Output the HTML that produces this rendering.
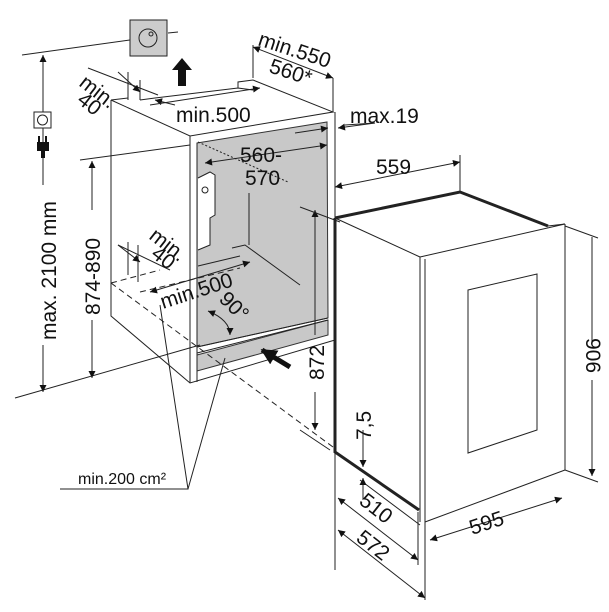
<!DOCTYPE html>
<html><head><style>body{margin:0;background:#fff}svg{display:block}text{font-family:"Liberation Sans",sans-serif;fill:#111}</style></head>
<body>
<svg width="609" height="612" viewBox="0 0 609 612" xmlns="http://www.w3.org/2000/svg">
<defs>
<marker id="a" viewBox="0 0 10 10" refX="10" refY="5" markerWidth="9" markerHeight="7" orient="auto-start-reverse" markerUnits="userSpaceOnUse"><path d="M0,0L10,5L0,10z" fill="#111"/></marker>
<marker id="b" viewBox="0 0 10 10" refX="9" refY="5" markerWidth="16" markerHeight="16" orient="auto" markerUnits="userSpaceOnUse"><path d="M0,0L10,5L0,10z" fill="#111"/></marker>
</defs>
<g stroke="#222" stroke-width="1" fill="none">
<polygon points="197,143 327,122 328,318 197,347" fill="#c8c8c8" stroke="#333"/>
<polygon points="197,355 328,320 328,335 197,371" fill="#c8c8c8" stroke="#333"/>
<path d="M111,100 L190,136 L333,112 L253,80 L238,82 L238,88 L253,90 M111,100 L128,98 M140,100 L155,98 L238,88"/>
<path d="M111,100 V316 L190,383 L335,340 V112"/>
<path d="M190,136 V383 M197,143 V382"/>
<path d="M197,347 L328,318 M197,353 L328,320"/>
<path d="M198,178 L210,172 L215,175 V215 L210,218 V245 L198,250" fill="#fff"/>
<circle cx="205" cy="190" r="3"/>
<path d="M198,266 L240,256 M232,248 L245,245 L300,285 M249,193 V245"/>
<path d="M198,142 L288,182" stroke-dasharray="2,2"/>
<path d="M111,283 L333,447 M111,283 L160,270 M140,292 L240,268" stroke-dasharray="6,4"/>
<path d="M335,218 L460,192 L548,226 M335,218 V452 L419,510" stroke-width="3"/>
<path d="M335,218 L420,257 M420,257 L565,224 L548,226 M420,257 V522 M425,259 V522 M425,522 L565,470 V224"/>
<polygon points="468,290 537,274 537,430 468,453"/>
<path d="M335,187 L460,162" marker-start="url(#a)" marker-end="url(#a)"/>
<path d="M460,155 V192 M335,180 V218"/>
<path d="M565,226 L598,238 M565,470 L598,482 M592,237 V330 M592,392 V476"/>
<path d="M592,345 V237 M592,380 V476" marker-end="url(#a)"/>
<path d="M335,452 V570 M425,522 V600 M418,512 V565 M360,480 L420,525"/>
<path d="M338,498 L418,560" marker-start="url(#a)" marker-end="url(#a)"/>
<path d="M338,530 L425,598" marker-start="url(#a)" marker-end="url(#a)"/>
<path d="M430,540 L562,498" marker-start="url(#a)" marker-end="url(#a)"/>
<path d="M363,430 V467" marker-end="url(#a)"/><path d="M363,500 V478" marker-end="url(#a)"/>
<path d="M315,335 V210" marker-end="url(#a)"/><path d="M315,392 V430" marker-end="url(#a)"/>
<path d="M300,207 L340,222 M300,430 L330,450"/>
<path d="M22,55 L130,40 M168,33 L178,32 M15,398 L200,345 M80,160 L190,145"/>
<path d="M43,185 V55" marker-end="url(#a)"/><path d="M43,345 V392" marker-end="url(#a)"/>
<path d="M92,210 V161" marker-end="url(#a)"/><path d="M92,320 V378" marker-end="url(#a)"/>
<path d="M253,78 V45 M333,112 V78"/>
<path d="M253,47 L333,78" marker-start="url(#a)" marker-end="url(#a)"/>
<path d="M128,72 V100 M140,80 V100 M88,68 L158,95"/>
<path d="M118,72 L140,92" marker-end="url(#a)"/><path d="M175,105 L155,100" marker-end="url(#a)"/>
<path d="M150,105 L260,88" marker-end="url(#a)"/>
<path d="M345,125 L375,123"/><path d="M295,133 L328,128" marker-end="url(#a)"/><path d="M375,123 L338,128" marker-end="url(#a)"/>
<path d="M205,163 L327,145" marker-start="url(#a)" marker-end="url(#a)"/>
<path d="M128,242 V275 M138,245 V282 M118,245 L170,270"/>
<path d="M118,245 L140,262" marker-end="url(#a)"/>
<path d="M150,292 L250,262" marker-start="url(#a)" marker-end="url(#a)"/>
<path d="M208,311 Q230,320 230,335" marker-start="url(#a)" marker-end="url(#a)"/>
<path d="M60,489 H188 L160,305 M188,489 L225,358"/>
<path d="M290,367 L262,350" stroke="#111" stroke-width="5" marker-end="url(#b)"/>
</g>
<rect x="130" y="20" width="37" height="36" fill="#ccc" stroke="#222"/>
<circle cx="148" cy="38" r="9" fill="none" stroke="#222"/><circle cx="151" cy="34" r="2" fill="none" stroke="#222"/>
<polygon points="182,58 172,70 178,70 178,86 186,86 186,70 192,70" fill="#111"/>
<rect x="34" y="112" width="17" height="16" fill="#fff" stroke="#222"/><circle cx="42.5" cy="120" r="5" fill="none" stroke="#222"/>
<path d="M39,136 V142 M46,136 V142" stroke="#111" stroke-width="2"/><rect x="37" y="142" width="12" height="9" fill="#111"/><rect x="41" y="150" width="4" height="8" fill="#111"/>
<g font-size="21">
<text transform="translate(257,45) rotate(18)">min.550</text>
<text transform="translate(268,72) rotate(18)">560*</text>
<text transform="translate(78,85) rotate(38)">min.</text>
<text transform="translate(76,102) rotate(38)">40</text>
<text x="176" y="122">min.500</text>
<text x="350" y="123">max.19</text>
<text x="240" y="162">560-</text>
<text x="245" y="185">570</text>
<text x="376" y="174">559</text>
<text transform="translate(148,238) rotate(38)">min.</text>
<text transform="translate(150,256) rotate(38)">40</text>
<text transform="translate(163,309) rotate(-18)">min.500</text>
<text transform="translate(218,300) rotate(45)">90°</text>
<text transform="translate(56,340) rotate(-90)">max. 2100 mm</text>
<text transform="translate(100,315) rotate(-90)">874-890</text>
<text transform="translate(324,380) rotate(-90)">872</text>
<text transform="translate(371,440) rotate(-90)">7,5</text>
<text transform="translate(586,338) rotate(90)">906</text>
<text transform="translate(472,535) rotate(-18)">595</text>
<text transform="translate(358,503) rotate(38)">510</text>
<text transform="translate(355,540) rotate(38)">572</text>
</g>
<text x="78" y="484" font-size="16">min.200 cm²</text>
</svg>
</body></html>
